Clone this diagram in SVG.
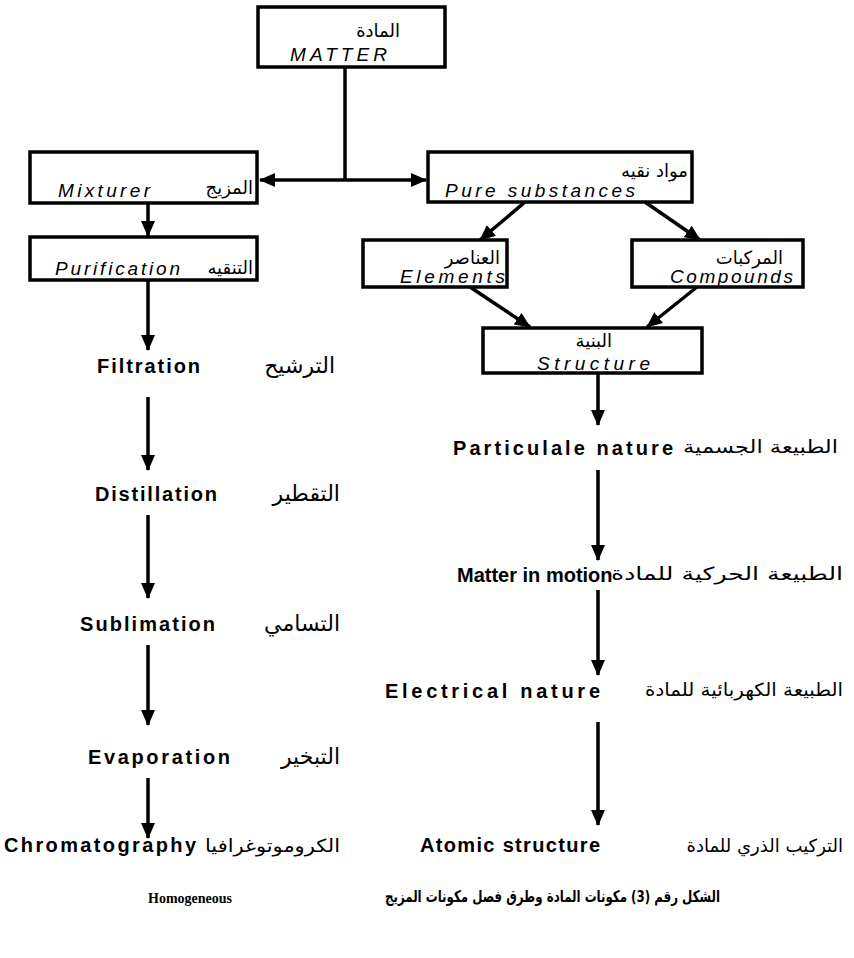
<svg xmlns="http://www.w3.org/2000/svg" width="854" height="958" viewBox="0 0 854 958">
<style>
.box{fill:#fff;stroke:#000;stroke-width:3.5}
.con{stroke:#000;stroke-width:3.5;fill:none}
.it{font-family:"Liberation Sans",sans-serif;font-style:italic;font-size:19px;fill:#000}
.en{font-family:"Liberation Sans",sans-serif;font-weight:bold;font-size:20px;fill:#000}
.ar{font-family:"DejaVu Sans",sans-serif;font-size:18px;fill:#000;text-anchor:end}
.arl{font-family:"DejaVu Sans",sans-serif;font-size:22px;fill:#000;text-anchor:end}
</style>
<defs>
<marker id="ah" markerUnits="userSpaceOnUse" markerWidth="16" markerHeight="14" refX="15" refY="7" orient="auto-start-reverse" viewBox="0 0 16 14">
<path d="M0,0 L16,7 L0,14 z" fill="#000"/>
</marker>
</defs>
<rect width="854" height="958" fill="#fff"/>

<g id="connectors">
<line class="con" x1="345" y1="67" x2="345" y2="180"/>
<line class="con" x1="260" y1="180" x2="426" y2="180" marker-start="url(#ah)" marker-end="url(#ah)"/>
<line class="con" x1="148" y1="203" x2="148" y2="236" marker-end="url(#ah)"/>
<line class="con" x1="525" y1="202" x2="480" y2="240" marker-end="url(#ah)"/>
<line class="con" x1="645" y1="202" x2="700" y2="240" marker-end="url(#ah)"/>
<line class="con" x1="470" y1="287" x2="530" y2="327" marker-end="url(#ah)"/>
<line class="con" x1="697" y1="287" x2="647" y2="327" marker-end="url(#ah)"/>
<line class="con" x1="148" y1="280" x2="148" y2="350" marker-end="url(#ah)"/>
<line class="con" x1="148" y1="397" x2="148" y2="470" marker-end="url(#ah)"/>
<line class="con" x1="148" y1="515" x2="148" y2="598" marker-end="url(#ah)"/>
<line class="con" x1="148" y1="645" x2="148" y2="725" marker-end="url(#ah)"/>
<line class="con" x1="148" y1="778" x2="148" y2="838" marker-end="url(#ah)"/>
<line class="con" x1="598" y1="373" x2="598" y2="425" marker-end="url(#ah)"/>
<line class="con" x1="598" y1="470" x2="598" y2="560" marker-end="url(#ah)"/>
<line class="con" x1="598" y1="590" x2="598" y2="675" marker-end="url(#ah)"/>
<line class="con" x1="598" y1="722" x2="598" y2="825" marker-end="url(#ah)"/>
</g>

<g id="matter">
<rect class="box" x="258" y="7" width="187" height="60"/>
<text class="ar" x="400" y="37" font-size="20">المادة</text>
<text class="it" x="290" y="61" textLength="97" lengthAdjust="spacing">MATTER</text>
</g>

<g id="mixturer">
<rect class="box" x="30" y="152" width="227" height="51"/>
<text class="it" x="58" y="197" textLength="92" lengthAdjust="spacing">Mixturer</text>
<text class="ar" x="253" y="194" font-size="19">المزيج</text>
</g>

<g id="purification">
<rect class="box" x="30" y="237" width="227" height="43"/>
<text class="it" x="55" y="275" textLength="125" lengthAdjust="spacing">Purification</text>
<text class="ar" x="253" y="274" font-size="18">التنقيه</text>
</g>

<g id="pure">
<rect class="box" x="428" y="152" width="264" height="50"/>
<text class="ar" x="688" y="177" font-size="21">مواد نقيه</text>
<text class="it" x="445" y="197" textLength="190" lengthAdjust="spacing">Pure substances</text>
</g>

<g id="elements">
<rect class="box" x="363" y="240" width="144" height="47"/>
<text class="ar" x="500" y="264">العناصر</text>
<text class="it" x="400" y="283" textLength="105" lengthAdjust="spacing">Elements</text>
</g>

<g id="compounds">
<rect class="box" x="632" y="240" width="171" height="47"/>
<text class="ar" x="783" y="264">المركبات</text>
<text class="it" x="670" y="283" textLength="123" lengthAdjust="spacing">Compounds</text>
</g>

<g id="structure">
<rect class="box" x="483" y="328" width="219" height="45"/>
<text class="ar" x="612" y="347" font-size="17">البنية</text>
<text class="it" x="537" y="370" textLength="113" lengthAdjust="spacing">Structure</text>
</g>

<g id="filtration">
<text class="en" x="97" y="373" textLength="103" lengthAdjust="spacing">Filtration</text>
<text class="arl" x="335" y="373">الترشيح</text>
</g>
<g id="distillation">
<text class="en" x="95" y="501" textLength="122" lengthAdjust="spacing">Distillation</text>
<text class="arl" x="340" y="501">التقطير</text>
</g>
<g id="sublimation">
<text class="en" x="80" y="631" textLength="135" lengthAdjust="spacing">Sublimation</text>
<text class="arl" x="340" y="631">التسامي</text>
</g>
<g id="evaporation">
<text class="en" x="88" y="764" textLength="142" lengthAdjust="spacing">Evaporation</text>
<text class="arl" x="340" y="764">التبخير</text>
</g>
<g id="chromatography">
<text class="en" x="4" y="852" textLength="192" lengthAdjust="spacing">Chromatography</text>
<text class="ar" x="340" y="852" font-size="21" textLength="135" lengthAdjust="spacingAndGlyphs">الكروموتوغرافيا</text>
</g>

<g id="particulate">
<text class="en" x="453" y="455" textLength="220" lengthAdjust="spacing">Particulale nature</text>
<text class="ar" x="838" y="453" font-size="20" textLength="155" lengthAdjust="spacingAndGlyphs">الطبيعة الجسمية</text>
</g>
<g id="motion">
<text class="en" x="457" y="582" font-size="16">Matter in motion</text>
<text class="ar" x="843" y="580" font-size="20" textLength="232" lengthAdjust="spacingAndGlyphs">الطبيعة الحركية للمادة</text>
</g>
<g id="electrical">
<text class="en" x="385" y="698" textLength="215" lengthAdjust="spacing">Electrical nature</text>
<text class="ar" x="843" y="696" font-size="19" textLength="198" lengthAdjust="spacingAndGlyphs">الطبيعة الكهربائية للمادة</text>
</g>
<g id="atomic">
<text class="en" x="420" y="852" textLength="180" lengthAdjust="spacing">Atomic structure</text>
<text class="ar" x="843" y="852" font-size="16">التركيب الذري للمادة</text>
</g>

<g id="caption">
<text x="720" y="902" font-family="'DejaVu Sans',sans-serif" font-weight="bold" font-size="16" text-anchor="end" textLength="335" lengthAdjust="spacingAndGlyphs">الشكل رقم (3)  مكونات المادة وطرق فصل مكونات المزيج</text>
<text x="148" y="903" font-family="'Liberation Serif',serif" font-weight="bold" font-size="14">Homogeneous</text>
</g>
</svg>
